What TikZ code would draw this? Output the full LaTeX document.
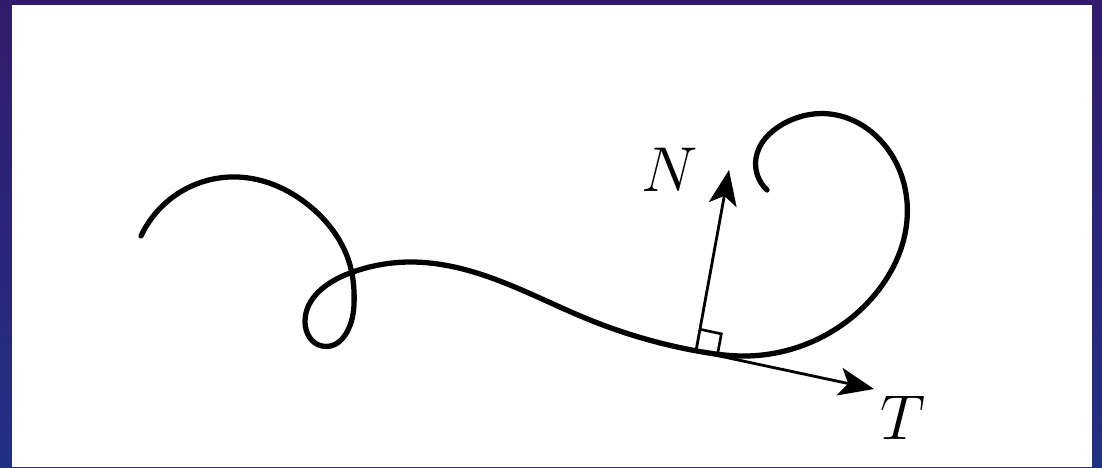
\documentclass[tikz,border=0pt]{standalone}
\usepackage{amsmath, amssymb}
\usetikzlibrary{arrows.meta, calc, hobby}

\definecolor{bgtop}{RGB}{50,27,110}
\definecolor{bgbot}{RGB}{34,48,132}

\begin{document}
\begin{tikzpicture}[x=0.02cm, y=-0.02cm,
  curve/.style={line width=3pt, line cap=round, line join=round},
  vec/.style={line width=1.6pt, -{Stealth[length=20pt,width=16pt,inset=5pt]}},
  lbl/.style={font=\Huge, scale=1.45}]

% ============================
% FRAME AND BACKGROUND
% ============================

\useasboundingbox (0,0) rectangle (1102,467);
\shade[top color=bgtop, bottom color=bgbot] (0,0) rectangle (1102,467);
\fill[white] (12,5) rectangle (1092,467);

% ============================
% THE CURVE
% ============================

\draw[curve, use Hobby shortcut]
  (141,236) .. (230,177) .. (312,208) .. (350,265) .. (354,305)
  .. (322,346) .. (305,322) .. (350,273) .. (410,262) .. (480,274)
  .. (590,320) .. (697,351) .. (745,356) .. (822,337) .. (872,298)
  .. (907,220) .. (882,142) .. (830,114) .. (783,124) .. (756,158)
  .. (767,190);

% ============================
% TANGENT AND NORMAL
% ============================

\coordinate (P) at (696,351);
\coordinate (Ntip) at (729,170);
\coordinate (Ttip) at (874,389);

\draw[vec] (P) -- (Ntip);
\draw[vec] (P) -- (Ttip);

% right angle mark
\coordinate (u) at ($(P)!0.12!(Ttip)$);
\coordinate (v) at ($(P)!0.12!(Ntip)$);
\draw[line width=1.5pt] (v) -- ($(u)+(v)-(P)$) -- (u);

% ============================
% LABELS
% ============================

\node[lbl] (N) at (670,170) {$N$};
\node[lbl] (T) at (903,418) {$T$};

\end{tikzpicture}
\end{document}
